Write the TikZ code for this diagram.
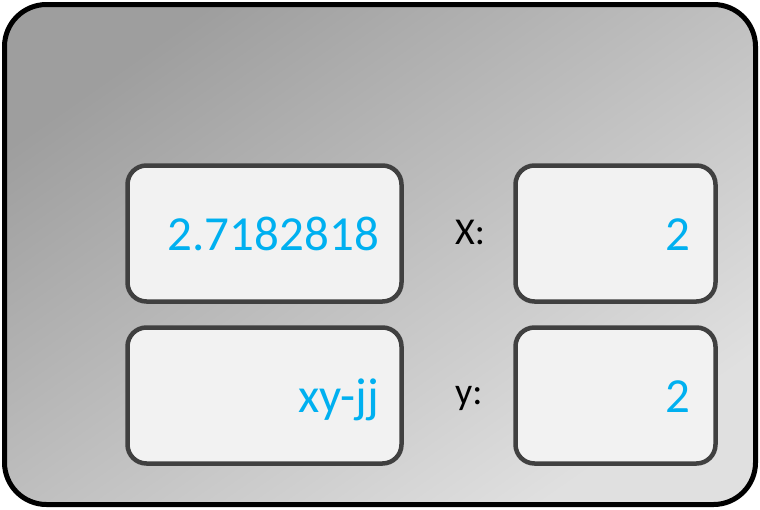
\documentclass[tikz,border=0pt]{standalone}
\usepackage{fontspec}
\setmainfont{Carlito}
\definecolor{boxfill}{HTML}{F2F2F2}
\definecolor{boxline}{HTML}{404040}
\definecolor{valblue}{HTML}{00B0F0}
\begin{document}
\begin{tikzpicture}[x=1pt, y=-1pt,
    field/.style={draw=boxline, fill=boxfill, line width=4.5pt, rounded corners=19pt, inner sep=0pt},
    value/.style={text=valblue, font=\fontsize{49}{58}\selectfont, inner sep=0pt, anchor=base east},
    tag/.style={text=black, font=\fontsize{38}{46}\selectfont, inner sep=0pt, anchor=base west}]
        \useasboundingbox (0, 0) rectangle (760, 509);
        \shade[left color=black!38, right color=black!12, shading angle=35,
            draw=black, line width=5pt, rounded corners=42pt] (4.5, 4.5) rectangle (755.5, 504.5);

        \node[field, minimum width=274pt, minimum height=136pt] (resbox) at (264.5, 233.5) {};
        \node[field, minimum width=200pt, minimum height=136pt] (xbox) at (615.5, 233.5) {};
        \node[field, minimum width=274pt, minimum height=136pt] (exprbox) at (264.5, 395.5) {};
        \node[field, minimum width=200pt, minimum height=136pt] (ybox) at (615.5, 395.5) {};

        \node[value] (res) at (379, 250) {2.7182818};
        \node[value] (xval) at (691, 250) {2};
        \node[value] (expr) at (379, 412) {xy-jj};
        \node[value] (yval) at (691, 412) {2};

        \node[tag] (xtag) at (455, 244) {X:};
        \node[tag] (ytag) at (455, 404) {y:};
    \end{tikzpicture}
\end{document}
